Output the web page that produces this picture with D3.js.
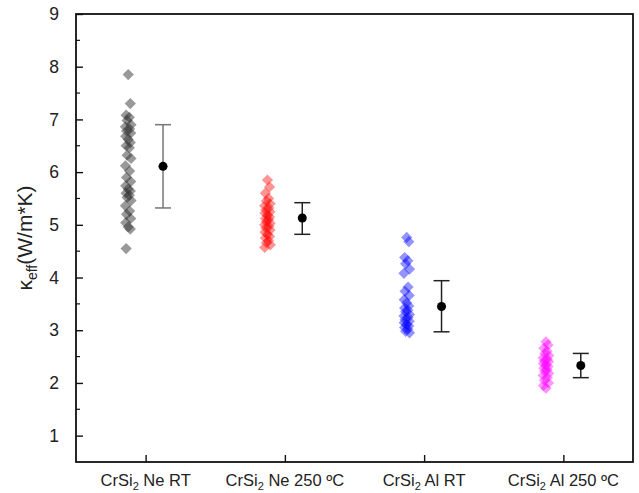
<!DOCTYPE html>
<html>
<head>
<meta charset="utf-8">
<script src="https://cdn.jsdelivr.net/npm/d3@7"></script>
<style>
  body { margin: 0; background: #fff; }
  svg { font-family: "Liberation Sans", Arial, sans-serif; }
</style>
</head>
<body>
<div id="chart"></div>
<script>
"use strict";

// categories (x positions 1..4)
const categories = ["Ne RT", "Ne 250 ºC", "Al RT", "Al 250 ºC"];
const colors = ["#333333", "#ff0000", "#0000ff", "#ff00ff"];

// individual measurements per sample
const neRT = [7.85, 7.3, 7.08, 7.04, 6.98, 6.9, 6.86, 6.82, 6.78, 6.74, 6.68, 6.62, 6.56, 6.5,
              6.46, 6.32, 6.26, 6.12, 6.02, 5.9, 5.82, 5.74, 5.68, 5.64, 5.6, 5.56, 5.52, 5.46,
              5.36, 5.26, 5.2, 5.12, 5.04, 4.96, 4.92, 4.55];
const ne250 = [5.85, 5.72, 5.6, 5.5, 5.45, 5.4, 5.36, 5.32, 5.28, 5.25, 5.22, 5.18, 5.15, 5.12,
               5.1, 5.06, 5.03, 5.0, 4.97, 4.94, 4.9, 4.86, 4.82, 4.78, 4.75, 4.7, 4.66, 4.62, 4.57];
const alRT = [4.76, 4.68, 4.38, 4.32, 4.26, 4.16, 4.08, 3.82, 3.74, 3.66, 3.58, 3.52, 3.46, 3.42,
              3.38, 3.35, 3.3, 3.27, 3.24, 3.2, 3.17, 3.14, 3.11, 3.08, 3.05, 3.02, 2.98, 2.95];
const al250 = [2.78, 2.72, 2.66, 2.6, 2.56, 2.52, 2.48, 2.45, 2.42, 2.4, 2.37, 2.34, 2.31, 2.28,
               2.25, 2.22, 2.18, 2.14, 2.1, 2.05, 2.0, 1.95, 1.9];
const series = [neRT, ne250, alRT, al250];

// slight horizontal scatter of the diamonds (category units), cycled
const jitter = [0.00, 0.015, -0.015, 0.008, -0.008, 0.02, -0.02, 0.01, -0.012, 0.018, -0.018];

// mean and error bar limits
const means = [6.11, 5.13, 3.45, 2.33];
const upper = [6.90, 5.42, 3.94, 2.56];
const lower = [5.32, 4.82, 2.97, 2.10];

const yTicks = [1, 2, 3, 4, 5, 6, 7, 8, 9];

const WIDTH = 639, HEIGHT = 493;
const margin = {left: 76, right: 6, top: 14, bottom: 31};

let svg = d3.select("#chart").append("svg")
    .attr("width", WIDTH)
    .attr("height", HEIGHT);

let x = d3.scaleLinear()
    .domain([0.5, 4.5])
    .range([margin.left, WIDTH - margin.right]);
let y = d3.scaleLinear()
    .domain([0.5, 9])
    .range([HEIGHT - margin.bottom, margin.top]);

// frame
svg.append("rect")
    .attr("x", x(0.5))
    .attr("y", y(9))
    .attr("width", x(4.5) - x(0.5))
    .attr("height", y(0.5) - y(9))
    .attr("fill", "none")
    .attr("stroke", "#111")
    .attr("stroke-width", 1.8);

// y axis, ticks inside
let yAxis = svg.append("g")
    .attr("transform", "translate(" + x(0.5) + ",0)")
    .call(d3.axisLeft(y).tickValues(yTicks).tickSize(-7).tickPadding(17).tickFormat(d3.format("d")));
yAxis.select(".domain").remove();
yAxis.selectAll("line").attr("stroke", "#111").attr("stroke-width", 1.4);
yAxis.selectAll("text").attr("font-size", 17.5).attr("fill", "#222");

// minor y ticks
svg.append("g").selectAll("line")
    .data(d3.range(1.5, 9, 1))
    .join("line")
    .attr("x1", x(0.5)).attr("x2", x(0.5) + 4)
    .attr("y1", d => y(d)).attr("y2", d => y(d))
    .attr("stroke", "#111").attr("stroke-width", 1.2);

// x axis ticks
let xAxis = svg.append("g")
    .attr("transform", "translate(0," + y(0.5) + ")")
    .call(d3.axisBottom(x).tickValues([1, 2, 3, 4]).tickSize(-7).tickFormat(""));
xAxis.select(".domain").remove();
xAxis.selectAll("line").attr("stroke", "#111").attr("stroke-width", 1.4);

// x category labels with subscript
let xl = svg.append("g").selectAll("text")
    .data(categories)
    .join("text")
    .attr("x", (d, i) => x(i + 1))
    .attr("y", y(0.5) + 24)
    .attr("text-anchor", "middle")
    .attr("font-size", 16.5)
    .attr("fill", "#222");
xl.append("tspan").text("CrSi");
xl.append("tspan").attr("font-size", 11).attr("dy", 4).text("2");
xl.append("tspan").attr("dy", -4).text(d => " " + d);

// y label
let yl = svg.append("text")
    .attr("transform", "translate(32," + y(4.75) + ") rotate(-90)")
    .attr("text-anchor", "middle")
    .attr("font-size", 21)
    .attr("fill", "#222");
yl.append("tspan").text("κ");
yl.append("tspan").attr("font-size", 14).attr("dy", 5).text("eff");
yl.append("tspan").attr("dy", -5).text("(W/m*K)");

// diamond scatter
let diamond = d3.symbol().type(d3.symbolDiamond2).size(80);
series.forEach((vals, s) => {
    svg.append("g").selectAll("path")
        .data(vals)
        .join("path")
        .attr("d", diamond)
        .attr("transform", (d, i) => "translate(" + x(s + 1 - 0.125 + jitter[i % jitter.length]) + "," + y(d) + ")")
        .attr("fill", colors[s])
        .attr("fill-opacity", s === 0 ? 0.5 : 0.42);
});

// error bars
let eb = svg.append("g");
means.forEach((m, i) => {
    let cx = x(i + 1.125);
    let g = eb.append("g").attr("stroke", i === 0 ? "#777" : "#222").attr("stroke-width", 1.5);
    g.append("line").attr("x1", cx).attr("x2", cx).attr("y1", y(upper[i])).attr("y2", y(lower[i]));
    g.append("line").attr("x1", cx - 8).attr("x2", cx + 8).attr("y1", y(upper[i])).attr("y2", y(upper[i]));
    g.append("line").attr("x1", cx - 8).attr("x2", cx + 8).attr("y1", y(lower[i])).attr("y2", y(lower[i]));
    eb.append("circle").attr("cx", cx).attr("cy", y(m)).attr("r", 4.5).attr("fill", "#000");
});
</script>
</body>
</html>
